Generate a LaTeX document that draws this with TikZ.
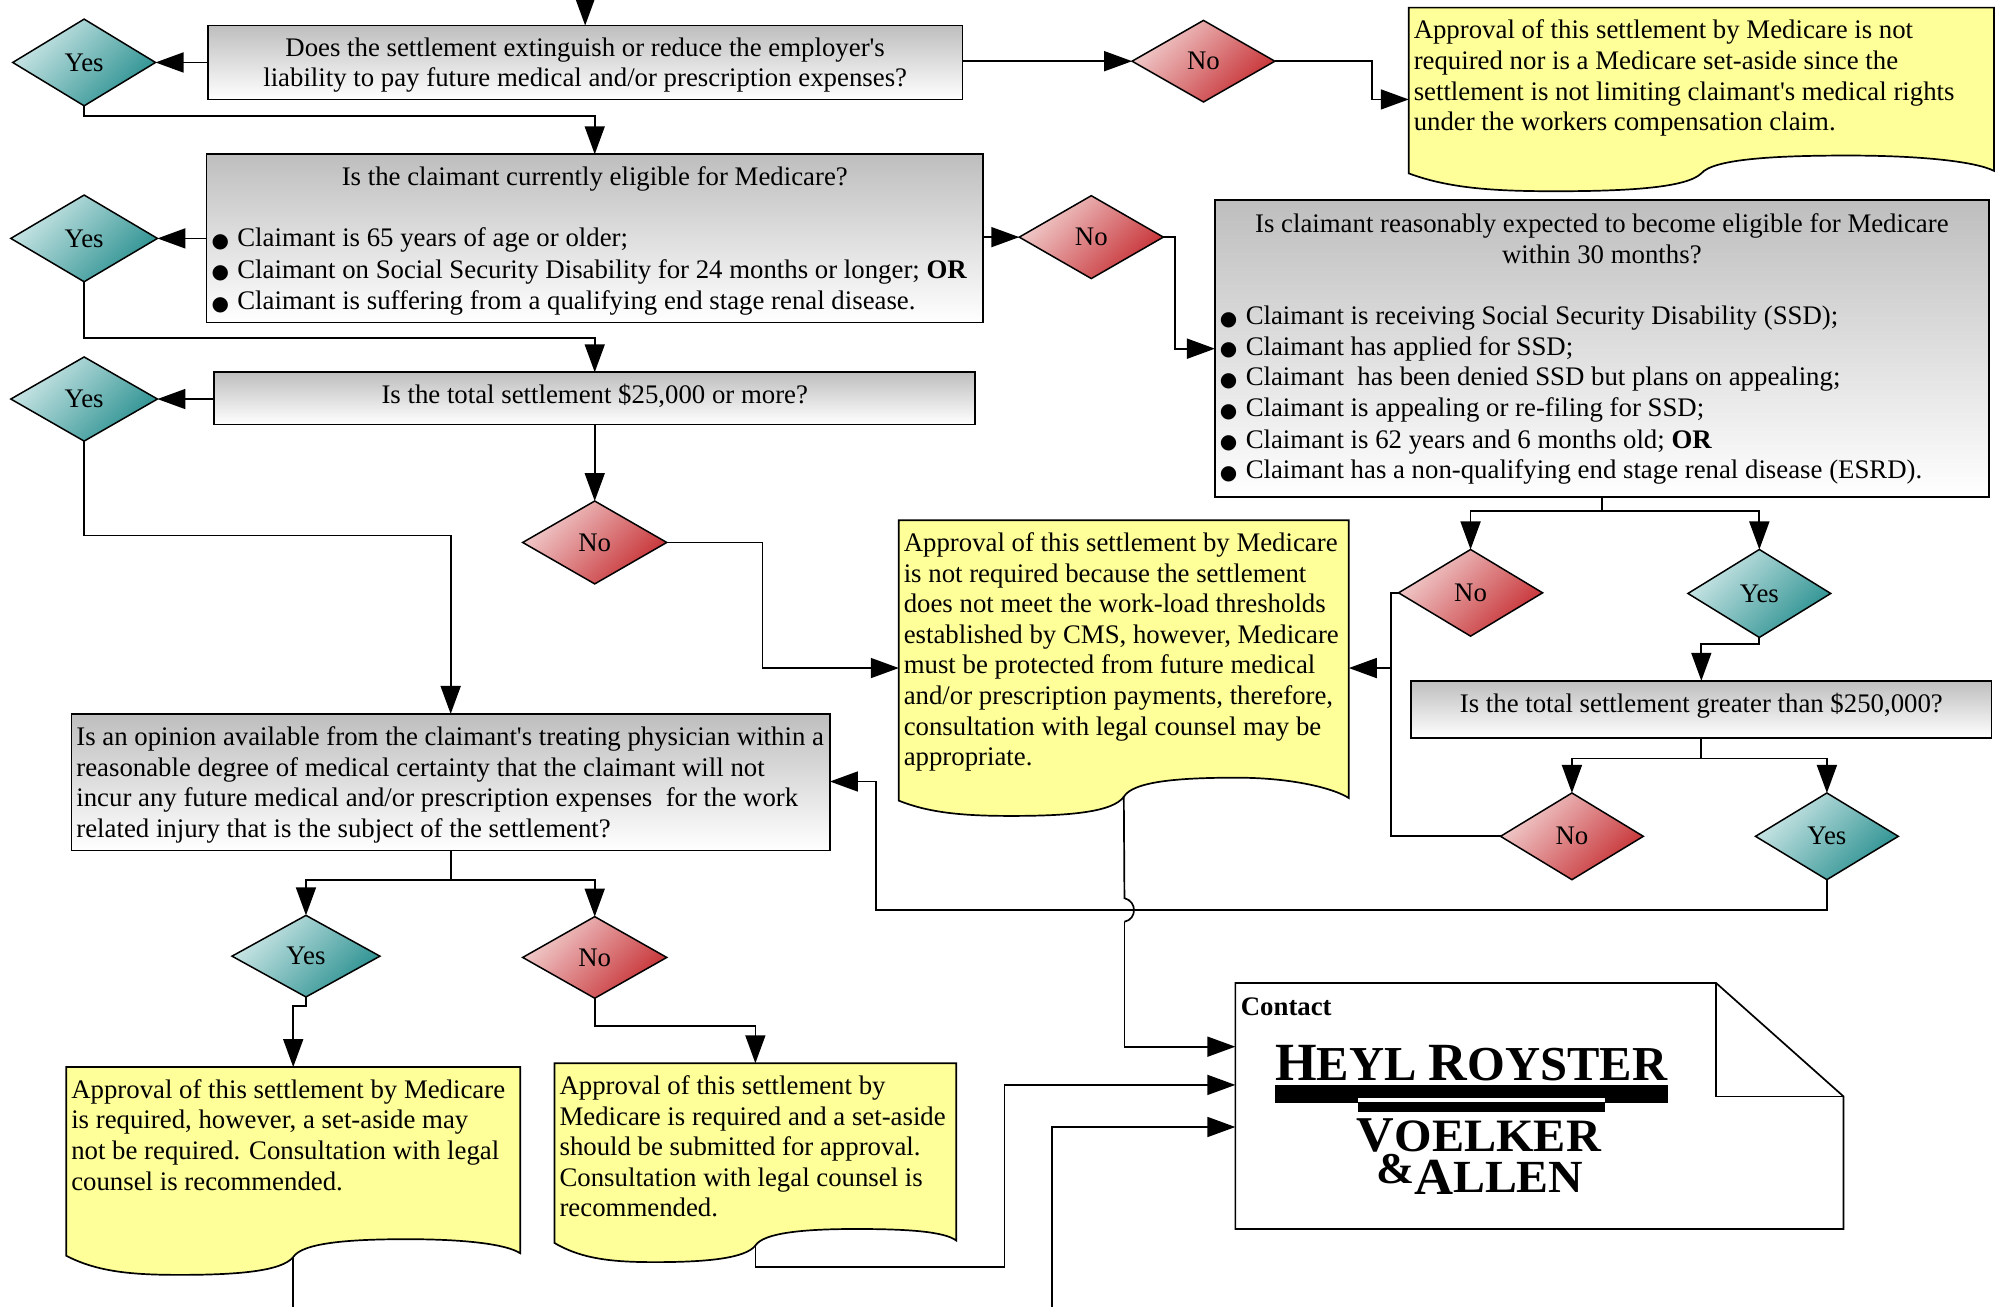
\documentclass[tikz,border=0pt]{standalone}
\usepackage{fontspec}
\setmainfont{Liberation Serif}
\newfontfamily\bulfont{DejaVu Sans}
\usetikzlibrary{shapes.geometric,arrows.meta}
\definecolor{notey}{HTML}{FFFF99}
\definecolor{boxtop}{HTML}{BEBEBE}
\definecolor{yeslight}{HTML}{CFE8E8}
\definecolor{yesdark}{HTML}{2A9090}
\definecolor{nolight}{HTML}{F2CFCF}
\definecolor{nodark}{HTML}{C62F33}
\newcommand\bul{\makebox[12.9pt][l]{\raisebox{-0.4pt}{\fontsize{10}{10}\selectfont\bulfont ●}}}
\newcommand\ctrline[1]{\makebox[\hsize][c]{#1}}
\newcommand\tp[1]{\rule{0pt}{#1pt}}
\newcommand\q{\textquotesingle}
\tikzset{
  txt/.style={font=\fontsize{13.4}{15.3}\selectfont},
  conn/.style={draw=black,line width=0.85pt,-{Triangle[length=14pt,width=10pt]}},
  wire/.style={draw=black,line width=0.85pt},
  qbox/.style={txt,draw=black,line width=0.85pt,rectangle,top color=boxtop,bottom color=white,inner xsep=2.5pt,inner ysep=0pt,outer sep=0pt},
  dia/.style={txt,draw=black,line width=0.75pt,diamond,inner sep=0pt,outer sep=0pt},
  yesd/.style={dia,top color=yeslight,bottom color=yesdark,shading angle=45},
  nod/.style={dia,top color=nolight,bottom color=nodark,shading angle=45},
}
% name, x1,y1,x2,y2, align, text
\newcommand\qb[7]{%
  \pgfmathsetmacro\qw{(#4-#2)*0.6375}\pgfmathsetmacro\qh{(#5-#3)*0.6375}%
  \node[qbox,align=#6,text width=\qw pt-5pt,minimum width=\qw pt,minimum height=\qh pt] (#1) at ({(#2+#4)/2},{(#3+#5)/2}) {#7};}
% name,kind,cx,cy,w,h,text
\newcommand\dd[7]{%
  \pgfmathsetmacro\qw{#5*0.6375}\pgfmathsetmacro\qh{#6*0.6375}%
  \node[#2,minimum width=\qw pt,minimum height=\qh pt] (#1) at (#3,#4) {#7};}
% name,x1,y1,x2,y0,low,high,text
\newcommand\nt[8]{%
  \pgfmathsetmacro\nw{#4-#2}\pgfmathsetmacro\xm{(#2+#4)/2}\pgfmathsetmacro\ja{(#6+#7)/2}%
  \pgfmathsetmacro\xa{#2+0.07*\nw}\pgfmathsetmacro\xb{#2+0.15*\nw}\pgfmathsetmacro\xc{#2+0.25*\nw}%
  \pgfmathsetmacro\xd{#2+0.38*\nw}\pgfmathsetmacro\xe{\xm-0.025*\nw}\pgfmathsetmacro\xf{\xm+0.02*\nw}%
  \pgfmathsetmacro\xg{#2+0.62*\nw}\pgfmathsetmacro\xh{#2+0.75*\nw}\pgfmathsetmacro\xi{#2+0.88*\nw}\pgfmathsetmacro\xj{#4-0.03*\nw}%
  \pgfmathsetmacro\qw{(#4-#2)*0.6375}%
  \draw[fill=notey,line width=0.85pt] (#2,#3) -- (#4,#3) -- (#4,#5-2)
    .. controls (\xj,#5-9) and (\xi,#7) .. (\xh,#7)
    .. controls (\xg,#7) and (\xf,#7+3) .. (\xm,\ja)
    .. controls (\xe,#6-3) and (\xd,#6) .. (\xc,#6)
    .. controls (\xb,#6) and (\xa,#6-2) .. (#2,#5) -- cycle;
  \coordinate (#1-j) at (\xm,\ja);
  \coordinate (#1-n) at (\xm,#3);
  \coordinate (#1-w) at (#2,{(#3+#6)/2});
  \coordinate (#1-e) at (#4,{(#3+#6)/2});
  \node[txt,anchor=north west,align=flush left,text width=\qw pt,inner xsep=2.5pt,inner ysep=6.2pt,outer sep=0pt] (#1) at (#2,#3) {#8};}
\begin{document}
\begin{tikzpicture}[x=0.6375pt,y=-0.6375pt]
\useasboundingbox (0,0) rectangle (1568,1025.2);
% decision boxes
\qb{b1}{163}{20}{755}{78}{flush center}{\tp{12}Does the settlement extinguish or reduce the employer\q s\\liability to pay future medical and/or prescription expenses?}
\qb{b2}{162}{121}{771}{253}{flush left}{\tp{12}\ctrline{Is the claimant currently eligible for Medicare?}\\[15.3pt]
\bul Claimant is 65 years of age or older;\\[0.6pt]
\bul Claimant on Social Security Disability for 24 months or longer; \textbf{OR}\\[0.6pt]
\bul Claimant is suffering from a qualifying end stage renal disease.}
\qb{b3}{168}{292}{765}{333}{flush center}{\raisebox{5pt}{Is the total settlement \$25,000 or more?}}
\qb{b4}{953}{157}{1560}{390}{flush left}{\tp{10}\ctrline{Is claimant reasonably expected to become eligible for Medicare}\\
\ctrline{within 30 months?}\\[15.3pt]
\bul Claimant is receiving Social Security Disability (SSD);\\
\bul Claimant has applied for SSD;\\
\bul Claimant~ has been denied SSD but plans on appealing;\\
\bul Claimant is appealing or re-filing for SSD;\\[0.6pt]
\bul Claimant is 62 years and 6 months old; \textbf{OR}\\
\bul Claimant has a non-qualifying end stage renal disease (ESRD).}
\qb{b5}{1107}{534}{1562}{579}{flush center}{\raisebox{6.5pt}{Is the total settlement greater than \$250,000?}}
\qb{b6}{56}{560}{651}{667}{flush left}{\tp{12.4}Is an opinion available from the claimant\q s treating physician within a\\
reasonable degree of medical certainty that the claimant will not\\
incur any future medical and/or prescription expenses~ for the work\\
related injury that is the subject of the settlement?}
% diamonds
\dd{y1}{yesd}{66}{49}{112}{68}{Yes}
\dd{y2}{yesd}{66}{187}{115}{68}{Yes}
\dd{y3}{yesd}{66}{313}{115}{66}{Yes}
\dd{y4}{yesd}{1380}{465.5}{112}{69}{Yes}
\dd{y5}{yesd}{1433}{656}{112}{68}{Yes}
\dd{y6}{yesd}{240}{750}{116}{64}{Yes}
\dd{n1}{nod}{944}{48}{112}{64}{No}
\dd{n2}{nod}{856}{186}{113}{65}{No}
\dd{n3}{nod}{466.5}{425.5}{113}{65}{No}
\dd{n4}{nod}{1153.5}{465}{113}{68}{No}
\dd{n5}{nod}{1233}{656}{112}{68}{No}
\dd{n6}{nod}{466.5}{751}{113}{64}{No}
% notes
\nt{nA}{1105}{6}{1564}{136}{150}{122}{Approval of this settlement by Medicare is not\\required nor is a Medicare set-aside since the\\settlement is not limiting claimant\q s medical rights\\under the workers compensation claim.}
\nt{nB}{705}{408}{1058}{628}{640}{610}{Approval of this settlement by Medicare\\is not required because the settlement\\does not meet the work-load thresholds\\established by CMS, however, Medicare\\must be protected from future medical\\and/or prescription payments, therefore,\\consultation with legal counsel may be\\appropriate.}
\nt{nC}{52}{837}{408}{985}{1000}{972}{Approval of this settlement by Medicare\\is required, however, a set-aside may\\not be required. Consultation with legal\\counsel is recommended.}
\nt{nD}{435}{834}{750}{975}{990}{964}{Approval of this settlement by\\Medicare is required and a set-aside\\should be submitted for approval.\\Consultation with legal counsel is\\recommended.}
% contact sheet
\draw[fill=white,line width=0.85pt,line join=miter] (969,771) -- (1346,771) -- (1446,860) -- (1446,964) -- (969,964) -- cycle;
\draw[line width=0.85pt] (1346,771) -- (1346,860) -- (1446,860);
\node[txt,anchor=base west,inner sep=0pt] (ctl) at (973,796.5) {\textbf{Contact}};
\coordinate (ci1) at (969,821);
\coordinate (ci2) at (969,851);
\coordinate (ci3) at (969,884);
% logo
\fill (1000,851) rectangle (1308,865);
\fill (1065,859) rectangle (1259,872);
\fill[white] (1065,861) rectangle (1259,864.5);
\node[anchor=south west,inner sep=0pt] (lg1) at (1000,848.5) {\resizebox{196pt}{17.6pt}{\bfseries\fontsize{27}{27}\selectfont H\fontsize{24.5}{24.5}\selectfont EYL {\fontsize{27}{27}\selectfont R}OYSTER}};
\node[anchor=south west,inner sep=0pt] (lg2) at (1064,904) {\resizebox{122pt}{16.4pt}{\bfseries\fontsize{27}{27}\selectfont V\fontsize{25}{25}\selectfont OELKER}};
\node[anchor=south west,inner sep=0pt] (lg3) at (1079,937) {\scalebox{1.04}[1]{\bfseries\raisebox{5.4pt}{\fontsize{22}{22}\selectfont\&}\fontsize{26}{26}\selectfont A\fontsize{23}{23}\selectfont\raisebox{1pt}{LLEN}}};
% connectors
\coordinate (topin) at (459,-4);
\draw[conn] (topin) -- (b1.north);
\draw[conn] (b1.west) -- (y1.east);
\draw[conn] (b1.east |- n1.west) -- (n1.west);
\draw[conn] (n1.east) -- ++(76,0) |- (nA-w);
\draw[conn] (y1.south) -- ++(0,8) -| (b2.north);
\draw[conn] (b2.west) -- (y2.east);
\draw[conn] (b2.east |- n2.west) -- (n2.west);
\draw[conn] (n2.east) -- ++(9,0) |- (b4.west);
\draw[conn] (y2.south) -- ++(0,44) -| (b3.north);
\draw[conn] (b3.west |- y3.east) -- (y3.east);
\draw[conn] (b3.south) -- (n3.north);
\draw[conn] (n3.east) -- ++(75,0) |- (nB-w);
\draw[conn] (y3.south) -- ++(0,74) -| (b6.north);
\draw[conn] (b4.south) -- ++(0,11) -| (n4.north);
\draw[conn] (b4.south) -- ++(0,11) -| (y4.north);
\draw[conn] (y4.south) -- ++(0,5) -| (b5.north);
\coordinate (jn) at (1091,524);
\draw[wire] (n4.west) -| (jn);
\draw[wire] (n5.west) -| (jn);
\draw[conn] (jn) -- (nB-e);
\draw[conn] (b5.south) -- ++(0,16) -| (n5.north);
\draw[conn] (b5.south) -- ++(0,16) -| (y5.north);
\coordinate (rr) at (687,714);
\draw[conn] (y5.south) |- (rr) |- (b6.east |- 0,613);
\coordinate (hopa) at (882,704.5);
\coordinate (hopb) at (882,723);
\draw[wire] (nB-j) -- (hopa) .. controls (892,707) and (892,721) .. (hopb);
\draw[conn] (hopb) |- (ci1);
\draw[conn] (b6.south) -- ++(0,23) -| (y6.north);
\draw[conn] (b6.south) -- ++(0,23) -| (n6.north);
\draw[conn] (y6.south) -- ++(0,7) -| (nC-n);
\draw[conn] (n6.south) -- ++(0,22) -| (nD-n);
\coordinate (offC) at (230,1032);
\draw[wire] (nC-j) -- (offC);
\draw[conn] (nD-j) -- ++(0,17) -| (788,851) -- (ci2);
\coordinate (offE) at (825,1032);
\draw[conn] (offE) |- (ci3);
\end{tikzpicture}
\end{document}
